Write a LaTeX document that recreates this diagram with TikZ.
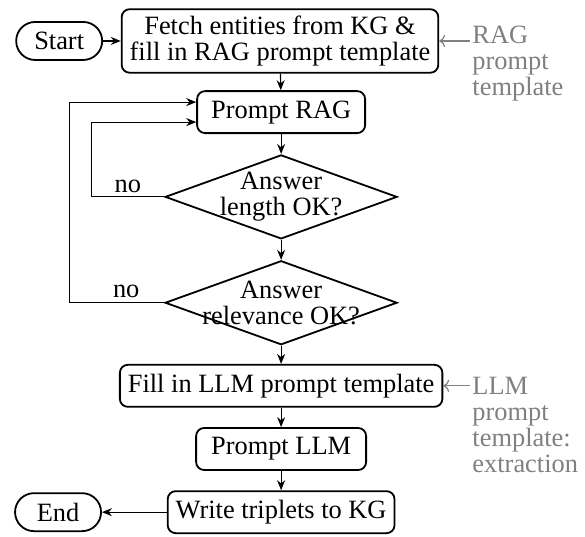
\documentclass[tikz,border=0pt]{standalone}
\usepackage{fontspec}
\setmainfont{Liberation Serif}
\usetikzlibrary{shapes.geometric,arrows.meta}

\tikzset{
  stepbox/.style={rectangle, draw, rounded corners=4pt, line width=0.9pt, minimum height=21pt, inner xsep=4pt, align=center},
  terminal/.style={rectangle, draw, rounded corners=9.5pt, line width=0.9pt, minimum width=43pt, minimum height=19pt},
  decision/.style={diamond, draw, line width=0.9pt, aspect=2.76, minimum width=116pt, minimum height=42pt, inner sep=-8pt, align=center},
  flow/.style={-{Stealth[length=5pt, width=4pt]}, line width=0.6pt},
  tmplnote/.style={text=gray, align=left, inner sep=1pt, anchor=north west},
  tmplarrow/.style={->, gray, line width=0.6pt},
}

\begin{document}
\begin{tikzpicture}[font=\fontsize{13.2pt}{13pt}\selectfont]
    \useasboundingbox (0, 0) rectangle (10.28, -9.42);

    \node[terminal] (start) at (1.04, -0.72) {Start};
    \node[stepbox, minimum height=31pt] (fetch) at (4.92, -0.72) {Fetch entities from KG \&\\fill in RAG prompt template};
    \node[stepbox, minimum width=84pt] (rag) at (4.94, -1.97) {Prompt RAG};
    \node[decision] (len) at (4.94, -3.46) {Answer\\length OK?};
    \node[decision] (relv) at (4.94, -5.32) {Answer\\relevance OK?};
    \node[stepbox] (fill) at (4.94, -6.78) {Fill in LLM prompt template};
    \node[stepbox, minimum width=85pt] (llm) at (4.94, -7.89) {Prompt LLM};
    \node[stepbox] (write) at (4.94, -9.0) {Write triplets to KG};
    \node[terminal] (end) at (1.02, -9.0) {End};

    % template notes on the right
    \node[tmplnote] (ragtmpl) at (8.26, -0.42) {RAG\\prompt\\template};
    \node[tmplnote] (llmtmpl) at (8.26, -6.59) {LLM\\prompt\\template:\\extraction};
    \draw[tmplarrow] (fetch.east -| ragtmpl.west) -- (fetch.east);
    \draw[tmplarrow] (fill.east -| llmtmpl.west) -- (fill.east);

    \draw[flow] (start) -- (fetch.west |- start);
    \draw[flow] (fetch) -- (rag);
    \draw[flow] (rag) -- (len);
    \draw[flow] (len) -- (relv);
    \draw[flow] (relv) -- (fill);
    \draw[flow] (fill) -- (llm);
    \draw[flow] (llm) -- (write);
    \draw[flow] (write) -- (end);

    % retry loops back to the RAG prompt
    \draw[flow] (len.west) -- node[above, inner sep=2pt] (nolen) {no} ++(-1.28, 0) |- ([yshift=-5pt]rag.west);
    \draw[flow] (relv.west) -- node[above, inner sep=2pt, pos=0.4] (norelv) {no} ++(-1.67, 0) |- ([yshift=5pt]rag.west);
\end{tikzpicture}
\end{document}
